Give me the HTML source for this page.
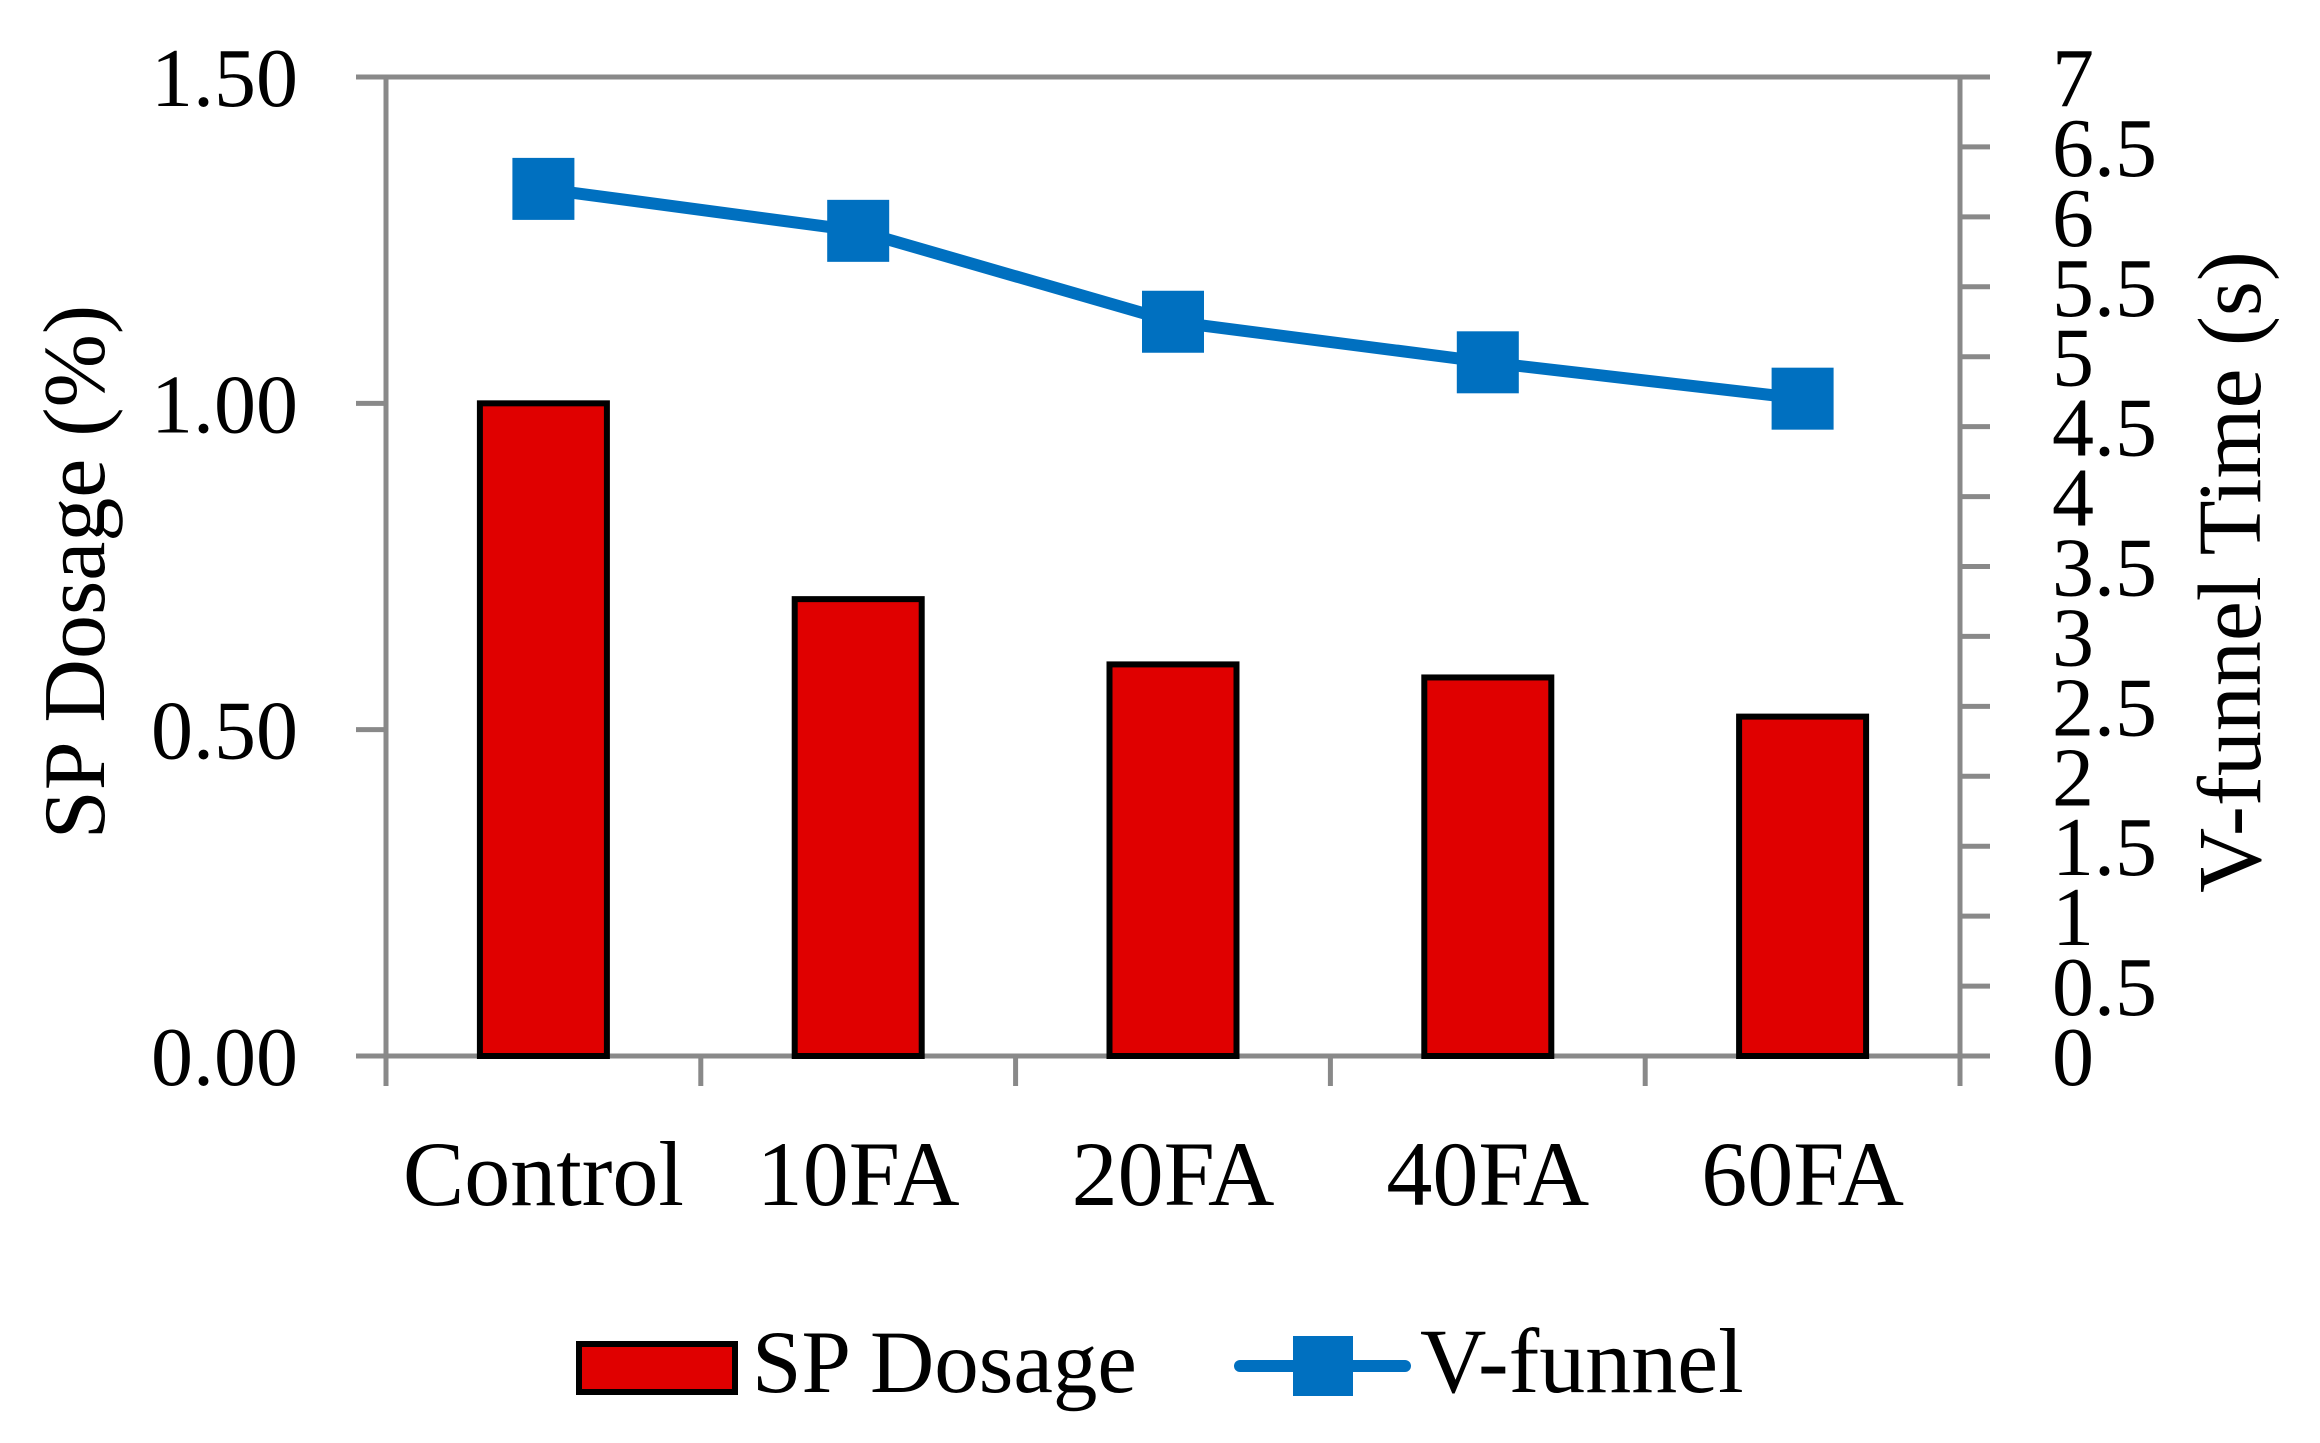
<!DOCTYPE html>
<html><head><meta charset="utf-8"><style>
html,body{margin:0;padding:0;background:#fff;}
svg{display:block;font-family:"Liberation Serif",serif;}
</style></head><body>
<svg id="chart" width="2320" height="1443" viewBox="0 0 2320 1443" xmlns="http://www.w3.org/2000/svg">
<g id="axes"></g>
<g id="bars"></g>
<g id="line"></g>
<text transform="translate(104,572) rotate(-90)" text-anchor="middle" font-size="88">SP Dosage (%)</text>
<text transform="translate(2260,572) rotate(-90)" text-anchor="middle" font-size="90">V-funnel Time (s)</text>
<g>
<rect x="579" y="1344" width="156" height="48" fill="#e00000" stroke="#000" stroke-width="6"/>
<text x="752" y="1392" font-size="89">SP Dosage</text>
<line x1="1240" y1="1366" x2="1405" y2="1366" stroke="#0070c0" stroke-width="12" stroke-linecap="round"/>
<rect x="1293" y="1336" width="60" height="60" fill="#0070c0"/>
<text x="1420" y="1392" font-size="92">V-funnel</text>
</g>
</svg>
<script>
const categories = ["Control","10FA","20FA","40FA","60FA"];
const spDosage = [1.00, 0.70, 0.60, 0.58, 0.52];
const vFunnel = [6.2, 5.9, 5.25, 4.96, 4.7];
const leftTicks = ["0.00","0.50","1.00","1.50"];
const leftTickValues = [0, 0.5, 1.0, 1.5];
const rightTickValues = [0,0.5,1,1.5,2,2.5,3,3.5,4,4.5,5,5.5,6,6.5,7];

const NS="http://www.w3.org/2000/svg";
const L=386,R=1960,T=77,B=1056;
const yL=v=>B-(v/1.5)*(B-T);
const yR=v=>B-(v/7)*(B-T);
const band=(R-L)/categories.length;
const xC=i=>L+band*(i+0.5);
function mk(tag,attrs,parent){const e=document.createElementNS(NS,tag);for(const k in attrs)e.setAttribute(k,attrs[k]);parent.appendChild(e);return e;}
const axes=document.getElementById('axes'),bars=document.getElementById('bars'),line=document.getElementById('line');
const G="#898989";
let e;
e=mk('line',{x1:L,y1:T,x2:L,y2:B,stroke:G,'stroke-width':5},axes);


e=mk('line',{x1:R,y1:T,x2:R,y2:B+30,stroke:G,'stroke-width':5},axes);


e=mk('line',{x1:L-30,y1:T,x2:R,y2:T,stroke:G,'stroke-width':5},axes);


e=mk('line',{x1:L-30,y1:B,x2:R+30,y2:B,stroke:G,'stroke-width':5},axes);


leftTickValues.forEach((v,i)=>{
  const y=yL(v);
  const t=mk('line',{x1:L-30,y1:y,x2:L,y2:y,stroke:G,'stroke-width':5},axes);
  
  
  const tx=mk('text',{x:298,y:y+29,'text-anchor':'end','font-size':84},axes);
  tx.textContent=leftTicks[i];
  
  
});
rightTickValues.forEach(v=>{
  const y=yR(v);
  const t=mk('line',{x1:R,y1:y,x2:R+30,y2:y,stroke:G,'stroke-width':5},axes);
  
  
  const tx=mk('text',{x:2052,y:y+29,'font-size':84},axes);
  tx.textContent=String(v);
  
  
});
for(let i=0;i<=categories.length;i++){
  const x=L+band*i;
  const t=mk('line',{x1:x,y1:B,x2:x,y2:B+30,stroke:G,'stroke-width':5},axes);
  
  
}
categories.forEach((c,i)=>{
  const tx=mk('text',{x:xC(i),y:1205,'text-anchor':'middle','font-size':92},axes);
  tx.textContent=c;
  
  
  const w=127,y=yL(spDosage[i]);
  const b=mk('rect',{x:xC(i)-w/2,y:y,width:w,height:B-y,fill:'#e00000',stroke:'#000','stroke-width':6},bars);
  
  
});
const pts=vFunnel.map((v,i)=>xC(i)+','+yR(v)).join(' ');
const pl=mk('polyline',{points:pts,fill:'none',stroke:'#0070c0','stroke-width':12,'stroke-linejoin':'round'},line);


vFunnel.forEach((v,i)=>{
  const s=62;
  const m=mk('rect',{x:xC(i)-s/2,y:yR(v)-s/2,width:s,height:s,fill:'#0070c0'},line);
  
  
});
</script>
</body></html>
